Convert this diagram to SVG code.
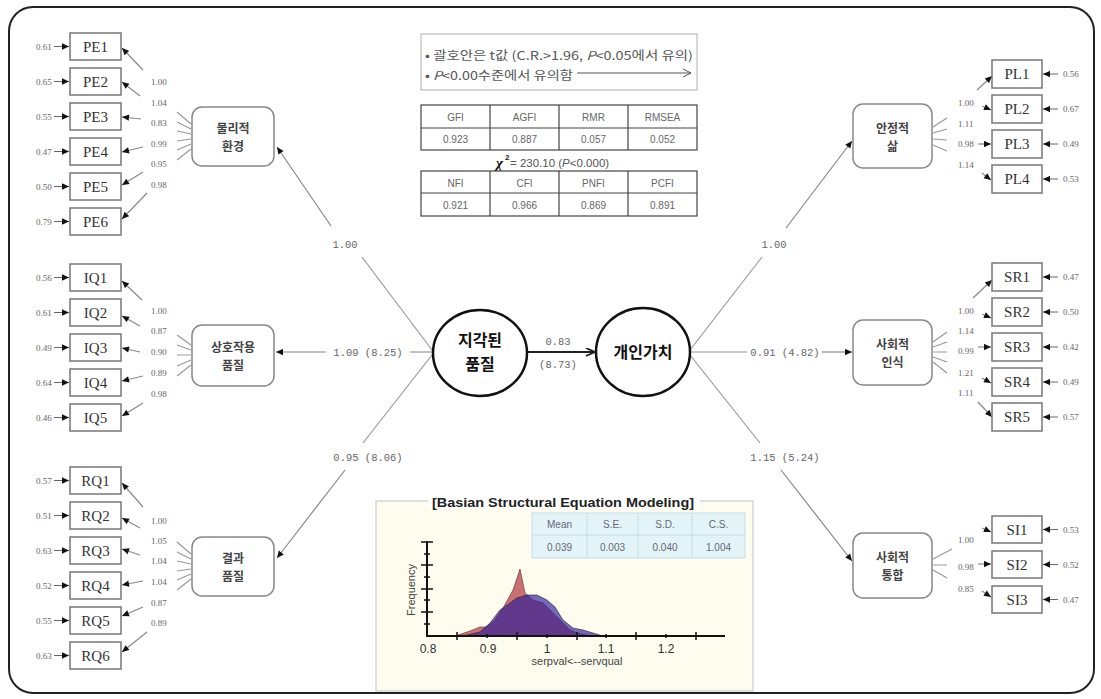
<svg xmlns="http://www.w3.org/2000/svg" width="1101" height="699" viewBox="0 0 1101 699">
<defs>
<marker id="ah" viewBox="0 0 10 10" refX="10" refY="5" markerWidth="8" markerHeight="7" orient="auto" markerUnits="userSpaceOnUse"><path d="M0,0.5 L10,5 L0,9.5 z" fill="#111"/></marker>
<marker id="ahb" viewBox="0 0 10 10" refX="9" refY="5" markerWidth="10" markerHeight="9" orient="auto" markerUnits="userSpaceOnUse"><path d="M0,0.5 L10,5 L0,9.5" fill="none" stroke="#222" stroke-width="2"/></marker>
<style>
.ind{fill:#fff;stroke:#777;stroke-width:1.5}
.it{font-family:"Liberation Serif",serif;font-size:15px;fill:#333;text-anchor:middle}
.fac{fill:#fff;stroke:#888;stroke-width:1.5}
.ft{font-family:"Noto Sans CJK KR",sans-serif;font-size:12px;font-weight:bold;fill:#444;text-anchor:middle}
.sm{font-family:"Liberation Serif",serif;font-size:9px;fill:#666}
.ln{stroke:#999;stroke-width:1.2;fill:none}
.arr{stroke:#888;stroke-width:1.2;fill:none;marker-end:url(#ah)}
.err{stroke:#666;stroke-width:1;fill:none;marker-end:url(#ah)}
.ml{font-family:"Liberation Mono",monospace;font-size:10.5px;fill:#666}
.ct{font-family:"Noto Sans CJK KR",sans-serif;font-size:16px;font-weight:bold;fill:#111;text-anchor:middle}
.tb{fill:none;stroke:#444;stroke-width:1.2}
.tt{font-family:"Liberation Sans",sans-serif;font-size:10px;fill:#666;text-anchor:middle}
.lg{font-family:"Noto Sans CJK KR",sans-serif;font-size:12px;fill:#555}
.st{font-family:"Liberation Sans",sans-serif;font-size:10px;fill:#667;text-anchor:middle}
.ax{stroke:#111;stroke-width:2;fill:none}
.tk{stroke:#111;stroke-width:1.5;fill:none}
.at{font-family:"Liberation Sans",sans-serif;font-size:12px;fill:#333;text-anchor:middle}
</style>
</defs>
<rect width="1101" height="699" fill="#fff"/>
<rect x="9" y="7" width="1085" height="686" rx="24" fill="none" stroke="#222" stroke-width="2"/>

<g id="connectors">
<line class="ln" x1="432" y1="350" x2="362" y2="257"/>
<line class="arr" x1="331" y1="226" x2="277" y2="147"/>
<line class="ln" x1="433" y1="352" x2="410" y2="352"/>
<line class="arr" x1="326" y1="352" x2="276" y2="352"/>
<line class="ln" x1="432" y1="355" x2="363" y2="443"/>
<line class="arr" x1="345" y1="470" x2="277" y2="558"/>
<line x1="527" y1="352" x2="594" y2="352" stroke="#222" stroke-width="2.2" marker-end="url(#ahb)"/>
<line class="ln" x1="690" y1="350" x2="762" y2="257"/>
<line class="arr" x1="786" y1="228" x2="852" y2="141"/>
<line class="ln" x1="690" y1="352" x2="747" y2="352"/>
<line class="arr" x1="822" y1="352" x2="852" y2="352"/>
<line class="ln" x1="690" y1="355" x2="760" y2="443"/>
<line class="arr" x1="781" y1="470" x2="852" y2="561"/>
<path class="ln" d="M191,124 L177,112 M191,129 L177,122 M191,134 L177,131 M191,139 L177,141 M191,144 L177,150 M191,149 L177,160"/>
<path class="ln" d="M191,345 L177,335 M191,350 L177,345 M191,355 L177,355 M191,360 L177,366 M191,365 L177,376"/>
<path class="ln" d="M191,554 L177,542 M191,559 L177,552 M191,564 L177,561 M191,569 L177,571 M191,574 L177,580 M191,579 L177,590"/>
<path class="ln" d="M933,127 L947,118 M933,133 L947,129 M933,139 L947,140 M933,145 L947,151"/>
<path class="ln" d="M933,342 L947,332 M933,347 L947,342 M933,352 L947,352 M933,357 L947,362 M933,362 L947,373"/>
<path class="ln" d="M933,559 L952,549 M933,565 L947,565 M933,570 L947,578"/>
<line class="arr" x1="143" y1="70" x2="122" y2="48"/>
<line class="arr" x1="140" y1="96" x2="122" y2="82"/>
<line class="arr" x1="141" y1="119" x2="122" y2="117"/>
<line class="arr" x1="143" y1="147" x2="122" y2="152"/>
<line class="arr" x1="143" y1="172" x2="122" y2="185"/>
<line class="arr" x1="147" y1="193" x2="122" y2="219"/>
<line class="arr" x1="142" y1="300" x2="122" y2="281"/>
<line class="arr" x1="140" y1="326" x2="122" y2="316"/>
<line class="arr" x1="140" y1="352" x2="122" y2="348"/>
<line class="arr" x1="143" y1="376" x2="122" y2="381"/>
<line class="arr" x1="143" y1="403" x2="122" y2="416"/>
<line class="arr" x1="143" y1="507" x2="122" y2="483"/>
<line class="arr" x1="140" y1="528" x2="122" y2="518"/>
<line class="arr" x1="140" y1="555" x2="122" y2="549"/>
<line class="arr" x1="143" y1="581" x2="122" y2="585"/>
<line class="arr" x1="143" y1="607" x2="122" y2="616"/>
<line class="arr" x1="147" y1="632" x2="122" y2="652"/>
<line class="arr" x1="977" y1="90" x2="992" y2="76"/>
<line class="arr" x1="982" y1="106" x2="991" y2="110"/>
<line class="arr" x1="978" y1="144" x2="991" y2="144"/>
<line class="arr" x1="982" y1="173" x2="991" y2="180"/>
<line class="arr" x1="973" y1="298" x2="992" y2="280"/>
<line class="arr" x1="982" y1="314" x2="991" y2="318"/>
<line class="arr" x1="978" y1="347" x2="991" y2="347"/>
<line class="arr" x1="982" y1="378" x2="991" y2="383"/>
<line class="arr" x1="978" y1="402" x2="992" y2="417"/>
<line class="arr" x1="982" y1="528" x2="991" y2="532"/>
<line class="arr" x1="978" y1="564" x2="991" y2="564"/>
<line class="arr" x1="982" y1="591" x2="991" y2="597"/>
<path class="err" d="M54,46.5 H69"/><path class="err" d="M54,81.5 H69"/><path class="err" d="M54,116.5 H69"/>
<path class="err" d="M54,151.5 H69"/><path class="err" d="M54,186.5 H69"/><path class="err" d="M54,221.5 H69"/>
<path class="err" d="M54,277.5 H69"/><path class="err" d="M54,312.5 H69"/><path class="err" d="M54,347.5 H69"/>
<path class="err" d="M54,382.5 H69"/><path class="err" d="M54,417.5 H69"/>
<path class="err" d="M54,480.5 H69"/><path class="err" d="M54,515.5 H69"/><path class="err" d="M54,550.5 H69"/>
<path class="err" d="M54,585.5 H69"/><path class="err" d="M54,620.5 H69"/><path class="err" d="M54,655.5 H69"/>
<path class="err" d="M1058,74 H1043"/><path class="err" d="M1058,109 H1043"/><path class="err" d="M1058,144 H1043"/><path class="err" d="M1058,179 H1043"/>
<path class="err" d="M1058,277 H1043"/><path class="err" d="M1058,312 H1043"/><path class="err" d="M1058,347 H1043"/><path class="err" d="M1058,382 H1043"/><path class="err" d="M1058,417 H1043"/>
<path class="err" d="M1058,529.5 H1043"/><path class="err" d="M1058,564.5 H1043"/><path class="err" d="M1058,599.5 H1043"/>
</g>

<g id="path-labels">
<text class="ml" x="345" y="248" text-anchor="middle">1.00</text>
<text class="ml" x="368" y="356" text-anchor="middle">1.09 (8.25)</text>
<text class="ml" x="368" y="461" text-anchor="middle">0.95 (8.06)</text>
<text class="ml" x="558" y="345" text-anchor="middle">0.83</text>
<text class="ml" x="558" y="368" text-anchor="middle">(8.73)</text>
<text class="ml" x="774" y="248" text-anchor="middle">1.00</text>
<text class="ml" x="785" y="356" text-anchor="middle">0.91 (4.82)</text>
<text class="ml" x="785" y="461" text-anchor="middle">1.15 (5.24)</text>
</g>

<g id="PE">
<rect class="ind" x="70" y="33" width="51" height="27"/><text class="it" x="95.5" y="51.5">PE1</text>
<rect class="ind" x="70" y="68" width="51" height="27"/><text class="it" x="95.5" y="86.5">PE2</text>
<rect class="ind" x="70" y="103" width="51" height="27"/><text class="it" x="95.5" y="121.5">PE3</text>
<rect class="ind" x="70" y="138" width="51" height="27"/><text class="it" x="95.5" y="156.5">PE4</text>
<rect class="ind" x="70" y="173" width="51" height="27"/><text class="it" x="95.5" y="191.5">PE5</text>
<rect class="ind" x="70" y="208" width="51" height="27"/><text class="it" x="95.5" y="226.5">PE6</text>
<text class="sm" x="36" y="49.5">0.61</text><text class="sm" x="36" y="84.5">0.65</text><text class="sm" x="36" y="119.5">0.55</text>
<text class="sm" x="36" y="154.5">0.47</text><text class="sm" x="36" y="189.5">0.50</text><text class="sm" x="36" y="224.5">0.79</text>
<text class="sm" x="151" y="85">1.00</text><text class="sm" x="151" y="106">1.04</text><text class="sm" x="151" y="126">0.83</text>
<text class="sm" x="151" y="147">0.99</text><text class="sm" x="151" y="167">0.95</text><text class="sm" x="151" y="188">0.98</text>
</g>
<g id="IQ">
<rect class="ind" x="70" y="264" width="51" height="27"/><text class="it" x="95.5" y="282.5">IQ1</text>
<rect class="ind" x="70" y="299" width="51" height="27"/><text class="it" x="95.5" y="317.5">IQ2</text>
<rect class="ind" x="70" y="334" width="51" height="27"/><text class="it" x="95.5" y="352.5">IQ3</text>
<rect class="ind" x="70" y="369" width="51" height="27"/><text class="it" x="95.5" y="387.5">IQ4</text>
<rect class="ind" x="70" y="404" width="51" height="27"/><text class="it" x="95.5" y="422.5">IQ5</text>
<text class="sm" x="36" y="280.5">0.56</text><text class="sm" x="36" y="315.5">0.61</text><text class="sm" x="36" y="350.5">0.49</text>
<text class="sm" x="36" y="385.5">0.64</text><text class="sm" x="36" y="420.5">0.46</text>
<text class="sm" x="151" y="314">1.00</text><text class="sm" x="151" y="334">0.87</text><text class="sm" x="151" y="355">0.90</text>
<text class="sm" x="151" y="376">0.89</text><text class="sm" x="151" y="397">0.98</text>
</g>
<g id="RQ">
<rect class="ind" x="70" y="467" width="51" height="27"/><text class="it" x="95.5" y="485.5">RQ1</text>
<rect class="ind" x="70" y="502" width="51" height="27"/><text class="it" x="95.5" y="520.5">RQ2</text>
<rect class="ind" x="70" y="537" width="51" height="27"/><text class="it" x="95.5" y="555.5">RQ3</text>
<rect class="ind" x="70" y="572" width="51" height="27"/><text class="it" x="95.5" y="590.5">RQ4</text>
<rect class="ind" x="70" y="607" width="51" height="27"/><text class="it" x="95.5" y="625.5">RQ5</text>
<rect class="ind" x="70" y="642" width="51" height="27"/><text class="it" x="95.5" y="660.5">RQ6</text>
<text class="sm" x="36" y="483.5">0.57</text><text class="sm" x="36" y="518.5">0.51</text><text class="sm" x="36" y="553.5">0.63</text>
<text class="sm" x="36" y="588.5">0.52</text><text class="sm" x="36" y="623.5">0.55</text><text class="sm" x="36" y="658.5">0.63</text>
<text class="sm" x="151" y="524">1.00</text><text class="sm" x="151" y="544">1.05</text><text class="sm" x="151" y="564">1.04</text>
<text class="sm" x="151" y="585">1.04</text><text class="sm" x="151" y="606">0.87</text><text class="sm" x="151" y="626">0.89</text>
</g>

<g id="f-physical"><rect class="fac" x="192" y="107" width="82" height="59" rx="10"/><text class="ft" x="233" y="133">물리적</text><text class="ft" x="233" y="151">환경</text></g>
<g id="f-interaction"><rect class="fac" x="192" y="325" width="82" height="61" rx="10"/><text class="ft" x="233" y="352">상호작용</text><text class="ft" x="233" y="370">품질</text></g>
<g id="f-outcome"><rect class="fac" x="192" y="537" width="82" height="59" rx="10"/><text class="ft" x="233" y="563">결과</text><text class="ft" x="233" y="581">품질</text></g>
<g id="f-stable"><rect class="fac" x="853" y="104" width="79" height="64" rx="10"/><text class="ft" x="892.5" y="133">안정적</text><text class="ft" x="892.5" y="151">삶</text></g>
<g id="f-social-rec"><rect class="fac" x="853" y="320" width="79" height="65" rx="10"/><text class="ft" x="892.5" y="349">사회적</text><text class="ft" x="892.5" y="367">인식</text></g>
<g id="f-social-int"><rect class="fac" x="853" y="533" width="79" height="65" rx="10"/><text class="ft" x="892.5" y="562">사회적</text><text class="ft" x="892.5" y="580">통합</text></g>

<g id="c-quality"><ellipse cx="480" cy="353" rx="47" ry="43" fill="#fff" stroke="#111" stroke-width="2.5"/><text class="ct" x="480" y="346">지각된</text><text class="ct" x="480" y="370">품질</text></g>
<g id="c-value"><ellipse cx="643" cy="352" rx="47" ry="44" fill="#fff" stroke="#111" stroke-width="2.5"/><text class="ct" x="643" y="358">개인가치</text></g>

<g id="PL">
<rect class="ind" x="992" y="60" width="50" height="28"/><text class="it" x="1017" y="79">PL1</text>
<rect class="ind" x="992" y="95" width="50" height="28"/><text class="it" x="1017" y="114">PL2</text>
<rect class="ind" x="992" y="130" width="50" height="28"/><text class="it" x="1017" y="149">PL3</text>
<rect class="ind" x="992" y="165" width="50" height="28"/><text class="it" x="1017" y="184">PL4</text>
<text class="sm" x="1063" y="77">0.56</text><text class="sm" x="1063" y="112">0.67</text><text class="sm" x="1063" y="147">0.49</text><text class="sm" x="1063" y="182">0.53</text>
<text class="sm" x="958" y="106">1.00</text><text class="sm" x="958" y="127">1.11</text><text class="sm" x="958" y="147">0.98</text><text class="sm" x="958" y="168">1.14</text>
</g>
<g id="SR">
<rect class="ind" x="992" y="263" width="50" height="28"/><text class="it" x="1017" y="282">SR1</text>
<rect class="ind" x="992" y="298" width="50" height="28"/><text class="it" x="1017" y="317">SR2</text>
<rect class="ind" x="992" y="333" width="50" height="28"/><text class="it" x="1017" y="352">SR3</text>
<rect class="ind" x="992" y="368" width="50" height="28"/><text class="it" x="1017" y="387">SR4</text>
<rect class="ind" x="992" y="403" width="50" height="28"/><text class="it" x="1017" y="422">SR5</text>
<text class="sm" x="1063" y="280">0.47</text><text class="sm" x="1063" y="315">0.50</text><text class="sm" x="1063" y="350">0.42</text><text class="sm" x="1063" y="385">0.49</text><text class="sm" x="1063" y="420">0.57</text>
<text class="sm" x="958" y="314">1.00</text><text class="sm" x="958" y="334">1.14</text><text class="sm" x="958" y="354">0.99</text><text class="sm" x="958" y="376">1.21</text><text class="sm" x="958" y="396">1.11</text>
</g>
<g id="SI">
<rect class="ind" x="992" y="516" width="50" height="27"/><text class="it" x="1017" y="534.5">SI1</text>
<rect class="ind" x="992" y="551" width="50" height="27"/><text class="it" x="1017" y="569.5">SI2</text>
<rect class="ind" x="992" y="586" width="50" height="27"/><text class="it" x="1017" y="604.5">SI3</text>
<text class="sm" x="1063" y="532.5">0.53</text><text class="sm" x="1063" y="567.5">0.52</text><text class="sm" x="1063" y="602.5">0.47</text>
<text class="sm" x="958" y="543">1.00</text><text class="sm" x="958" y="570">0.98</text><text class="sm" x="958" y="592">0.85</text>
</g>

<g id="legend">
<rect x="421" y="34" width="276" height="56" fill="#fff" stroke="#bbb" stroke-width="1.2"/>
<text class="lg" x="425" y="60" textLength="268" lengthAdjust="spacingAndGlyphs">• 괄호안은 t값 (C.R.&gt;1.96, <tspan font-style="italic">P</tspan>&lt;0.05에서 유의)</text>
<text class="lg" x="425" y="80" textLength="148" lengthAdjust="spacingAndGlyphs">• <tspan font-style="italic">P</tspan>&lt;0.00수준에서 유의함</text>
<line x1="577" y1="73" x2="691" y2="73" stroke="#555" stroke-width="1"/>
<polyline points="683,69 691,73 683,77" fill="none" stroke="#555" stroke-width="1"/>
</g>

<g id="fit-table-1">
<rect class="tb" x="421" y="105" width="276" height="45"/>
<path class="tb" d="M421,128 H697 M490,105 V150 M559,105 V150 M628,105 V150"/>
<text class="tt" x="455.5" y="121">GFI</text><text class="tt" x="524.5" y="121">AGFI</text><text class="tt" x="593.5" y="121">RMR</text><text class="tt" x="662.5" y="121">RMSEA</text>
<text class="tt" x="455.5" y="143">0.923</text><text class="tt" x="524.5" y="143">0.887</text><text class="tt" x="593.5" y="143">0.057</text><text class="tt" x="662.5" y="143">0.052</text>
</g>
<g id="chi-square">
<text x="496" y="168" font-family="Liberation Serif,serif" font-size="15" font-weight="bold" font-style="italic" fill="#111">χ</text>
<text x="505" y="160" font-family="Liberation Sans,sans-serif" font-size="8" font-weight="bold" fill="#111">2</text>
<text x="510" y="167" font-family="Liberation Sans,sans-serif" font-size="11.5" fill="#555">= 230.10 (<tspan font-style="italic">P</tspan>&lt;0.000)</text>
</g>
<g id="fit-table-2">
<rect class="tb" x="421" y="171" width="276" height="45"/>
<path class="tb" d="M421,193 H697 M490,171 V216 M559,171 V216 M628,171 V216"/>
<text class="tt" x="455.5" y="187">NFI</text><text class="tt" x="524.5" y="187">CFI</text><text class="tt" x="593.5" y="187">PNFI</text><text class="tt" x="662.5" y="187">PCFI</text>
<text class="tt" x="455.5" y="209">0.921</text><text class="tt" x="524.5" y="209">0.966</text><text class="tt" x="593.5" y="209">0.869</text><text class="tt" x="662.5" y="209">0.891</text>
</g>

<g id="bayes-chart">
<rect x="376" y="501" width="377" height="190" fill="#fdfcee" stroke="#ccc" stroke-width="1.2"/>
<rect x="428" y="494" width="272" height="14" fill="#fff"/>
<text x="563" y="507" font-family="Liberation Sans,sans-serif" font-size="13.5" font-weight="bold" fill="#222" text-anchor="middle" textLength="262" lengthAdjust="spacingAndGlyphs">[Basian Structural Equation Modeling]</text>
<rect x="532" y="513" width="213" height="45" fill="#e2f4f8" stroke="#c5dde5" stroke-width="1"/>
<path d="M532,535 H745 M587,513 V558 M638,513 V558 M692,513 V558" stroke="#c5dde5" stroke-width="1" fill="none"/>
<text class="st" x="559.5" y="528">Mean</text><text class="st" x="612.5" y="528">S.E.</text><text class="st" x="665" y="528">S.D.</text><text class="st" x="718.5" y="528">C.S.</text>
<text class="st" x="559.5" y="551">0.039</text><text class="st" x="612.5" y="551">0.003</text><text class="st" x="665" y="551">0.040</text><text class="st" x="718.5" y="551">1.004</text>
<path d="M455,636 L470,631 L480,627 L487,627 L495,620 L503,608 L513,590 L520,569 L525,593 L533,600 L543,603 L553,613 L563,623 L570,630 L577,633 L590,636 Z" fill="#c97070" stroke="#5a2a2a" stroke-width="0.6"/>
<path d="M463,636 L480,632 L490,623 L500,610 L510,603 L517,598 L527,595 L537,595 L547,600 L555,607 L563,620 L573,628 L583,630 L593,633 L603,636 Z" fill="#2a1a9a" fill-opacity="0.65" stroke="#222" stroke-width="0.6"/>
<path class="ax" d="M427,541 V636 H725"/>
<path class="tk" d="M421,542 H433 M421,565 H433 M421,589 H433 M421,612 H433 M424,554 H430 M424,577 H430 M424,600 H430 M424,624 H430"/>
<path class="tk" d="M457,632 V640 M517,632 V640 M577,632 V640 M636,632 V640 M696,632 V640 M487,634 V638 M547,634 V638 M606,634 V638 M666,634 V638"/>
<text class="at" x="428" y="653">0.8</text><text class="at" x="488" y="653">0.9</text><text class="at" x="547" y="653">1</text><text class="at" x="606" y="653">1.1</text><text class="at" x="666" y="653">1.2</text>
<text x="577" y="665" font-family="Liberation Sans,sans-serif" font-size="11" fill="#444" text-anchor="middle">serpval&lt;--servqual</text>
<text x="0" y="0" font-family="Liberation Sans,sans-serif" font-size="11" fill="#444" text-anchor="middle" transform="translate(415,590) rotate(-90)">Frequency</text>
</g>
</svg>
